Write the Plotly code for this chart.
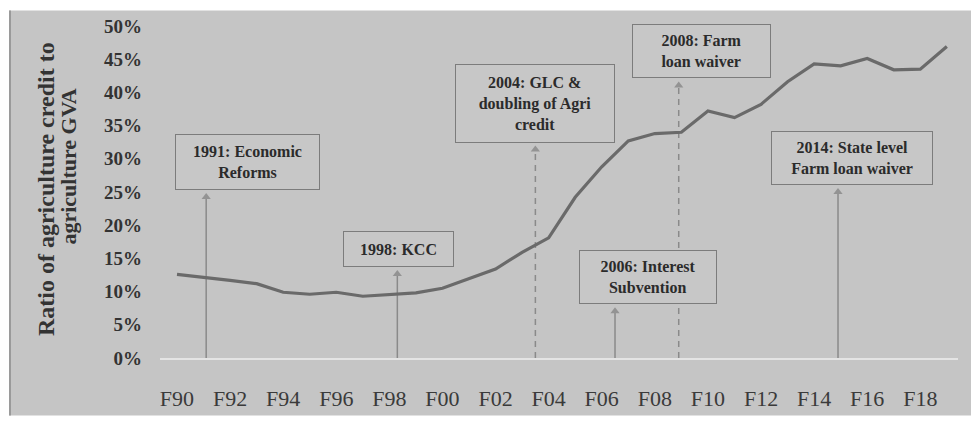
import plotly.graph_objects as go

# Ratio of agriculture credit to agriculture GVA, fiscal years 1990-2019 (%)
years = list(range(1990, 2020))
ratio = [12.6, 12.2, 11.7, 11.2, 9.9, 9.6, 9.9, 9.3, 9.6, 9.8,
         10.5, 11.9, 13.4, 15.9, 18.1, 24.2, 28.8, 32.7, 33.8, 34.0,
         37.2, 36.2, 38.2, 41.6, 44.3, 44.0, 45.1, 43.4, 43.5, 46.9]

x_tickvals = list(range(1990, 2019, 2))
x_ticktext = ["F90", "F92", "F94", "F96", "F98", "F00", "F02", "F04",
              "F06", "F08", "F10", "F12", "F14", "F16", "F18"]
y_tickvals = list(range(0, 51, 5))
y_ticktext = ["0%", "5%", "10%", "15%", "20%", "25%", "30%", "35%",
              "40%", "45%", "50%"]

# Policy events marked on the chart
event_labels = ["1991: Economic<br>Reforms",
                "1998: KCC",
                "2004: GLC &<br>doubling of Agri<br>credit",
                "2006: Interest<br>Subvention",
                "2008: Farm<br>loan waiver",
                "2014: State level<br>Farm loan waiver"]
event_x = [1991.1, 1998.3, 2003.5, 2006.5, 2008.9, 2014.9]
event_dashed = [False, False, True, False, True, False]

# ---- layout geometry (pixels) ----
W, H = 971, 423
ML, MR, MT, MB = 160, 13, 26, 57
PW, PH = W - ML - MR, H - MT - MB
X0, X1 = 1989.36, 2019.42
Y0, Y1 = 0, 50

def px_x(px):
    return X0 + (px - ML) / PW * (X1 - X0)

def px_y(py):
    return Y0 + (H - MB - py) / PH * (Y1 - Y0)

def paper_x(px):
    return (px - ML) / PW

def paper_y(py):
    return (H - MB - py) / PH

# box centre / size in pixels for each event label
box_cx = [247, 398, 535, 648, 701, 852]
box_cy = [165, 254, 105, 283, 52, 161]
box_w = [145, 111, 160, 138, 139, 162]
box_h = [56, 36, 79, 54, 54, 54]

BG = "#c5c5c5"
SERIF = "Liberation Serif"

fig = go.Figure()

shapes = [
    # grey panel with a darker left edge
    dict(type="rect", xref="paper", yref="paper", layer="below",
         x0=paper_x(9), x1=paper_x(W + 2), y0=paper_y(10), y1=paper_y(H + 2),
         fillcolor=BG, line=dict(width=0)),
    dict(type="line", xref="paper", yref="paper", layer="below",
         x0=paper_x(10), x1=paper_x(10), y0=paper_y(10), y1=paper_y(H + 2),
         line=dict(color="#9a9a9a", width=2)),
]

tip_x, tip_y = [], []
for i, xv in enumerate(event_x):
    tip_px = box_cy[i] + box_h[i] / 2 + 4
    shapes.append(dict(type="line", xref="x", yref="y", layer="below",
                       x0=xv, x1=xv, y0=0, y1=px_y(tip_px + 3),
                       line=dict(color="#8a8a8a", width=1.5,
                                 dash="6px,5px" if event_dashed[i] else "solid")))
    tip_x.append(xv)
    tip_y.append(px_y(tip_px + 4))

fig.add_trace(go.Scatter(x=tip_x, y=tip_y, mode="markers", hoverinfo="skip",
                         marker=dict(symbol="triangle-up", size=8,
                                     color="#939393", line=dict(width=0))))

fig.add_trace(go.Scatter(x=years, y=ratio, mode="lines",
                         line=dict(color="#6a6a6a", width=3.2),
                         hoverinfo="skip"))

annotations = []
for i, lab in enumerate(event_labels):
    annotations.append(dict(
        x=px_x(box_cx[i]), y=px_y(box_cy[i]), xref="x", yref="y",
        text="<b>" + lab + "</b>", showarrow=False,
        xanchor="center", yanchor="middle",
        width=box_w[i] - 2, height=box_h[i] - 2, borderpad=0,
        bordercolor="#7c7c7c", borderwidth=1, bgcolor="#c7c7c7",
        align="center", valign="middle",
        font=dict(family=SERIF, size=16, color="#2b2b2b")))

# y-axis title, two centred lines
annotations.append(dict(x=paper_x(46), y=paper_y(193), xref="paper", yref="paper",
                        text="<b>Ratio of agriculture credit to</b>", showarrow=False,
                        textangle=-90, xanchor="center", yanchor="middle",
                        font=dict(family=SERIF, size=24, color="#333333")))
annotations.append(dict(x=paper_x(69), y=paper_y(170), xref="paper", yref="paper",
                        text="<b>agriculture GVA</b>", showarrow=False,
                        textangle=-90, xanchor="center", yanchor="middle",
                        font=dict(family=SERIF, size=22, color="#333333")))

fig.update_layout(
    width=W, height=H,
    margin=dict(l=ML, r=MR, t=MT, b=MB, pad=0),
    paper_bgcolor="white", plot_bgcolor="rgba(0,0,0,0)",
    showlegend=False,
    shapes=shapes, annotations=annotations,
    xaxis=dict(range=[X0, X1], tickvals=x_tickvals, ticktext=x_ticktext,
               showgrid=False, zeroline=False, showline=True,
               linecolor="#e4e4e4", linewidth=2, ticks="",
               ticklabelstandoff=20,
               tickfont=dict(family=SERIF, size=22, color="#3a3a3a")),
    yaxis=dict(range=[Y0, Y1], tickvals=y_tickvals, ticktext=y_ticktext,
               showgrid=False, zeroline=False, showline=False, ticks="",
               ticklabelstandoff=17,
               tickfont=dict(family=SERIF, size=19, color="#333333",
                             weight="bold")),
)

fig.write_html("out.html")
